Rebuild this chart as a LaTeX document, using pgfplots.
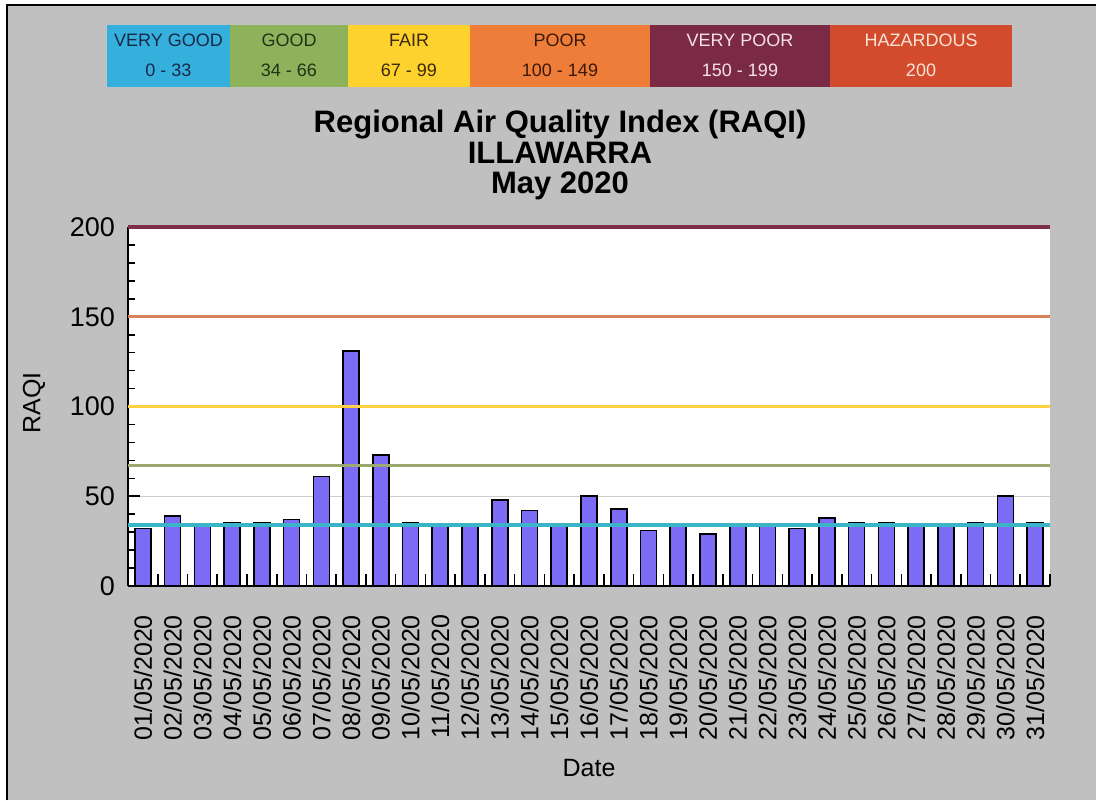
\documentclass[border=0pt]{standalone}
\usepackage{pgfplots}
\pgfplotsset{compat=1.18}
\usepackage{fontspec}
\setmainfont{Liberation Sans}

\definecolor{bggray}{RGB}{192,192,192}
\definecolor{cVG}{RGB}{53,176,221}
\definecolor{cG}{RGB}{141,178,91}
\definecolor{cF}{RGB}{253,210,46}
\definecolor{cP}{RGB}{238,125,58}
\definecolor{cVP}{RGB}{123,42,70}
\definecolor{cH}{RGB}{210,75,45}
\definecolor{lVG}{RGB}{60,180,200}
\definecolor{lG}{RGB}{155,168,110}
\definecolor{lF}{RGB}{255,208,64}
\definecolor{lP}{RGB}{214,130,90}
\definecolor{lVP}{RGB}{125,47,72}
\definecolor{barblue}{RGB}{124,108,245}

\pgfplotstableread{
x y
1 32
2 39
3 34
4 35
5 35
6 37
7 61
8 131
9 73
10 35
11 34
12 34
13 48
14 42
15 34
16 50
17 43
18 31
19 34
20 29
21 34
22 34
23 32
24 38
25 35
26 35
27 34
28 34
29 35
30 50
31 35
}\raqi

\begin{document}
\begin{tikzpicture}[x=1pt,y=1pt]
\useasboundingbox (0,0) rectangle (548,400);
\fill[white] (0,0) rectangle (548,400);
\fill[bggray] (3.25,0) rectangle (548,397.5);
\draw[black, line width=1pt] (3.25,0) -- (3.25,397.5) -- (548,397.5);

% category key
\fill[cVG] (53.5,356.5) rectangle (115,387.5);
\fill[cG]  (115,356.5) rectangle (174,387.5);
\fill[cF]  (174,356.5) rectangle (235,387.5);
\fill[cP]  (235,356.5) rectangle (325,387.5);
\fill[cVP] (325,356.5) rectangle (415,387.5);
\fill[cH]  (415,356.5) rectangle (506,387.5);
\begin{scope}[every node/.style={font=\fontsize{9}{11}\selectfont, inner sep=0pt}]
\node[text={rgb,255:red,25;green,40;blue,70}] at (84.25,379.6) {VERY GOOD};
\node[text={rgb,255:red,25;green,40;blue,70}] at (84.25,365) {0 - 33};
\node[text={rgb,255:red,35;green,50;blue,20}] at (144.5,379.6) {GOOD};
\node[text={rgb,255:red,35;green,50;blue,20}] at (144.5,365) {34 - 66};
\node[text={rgb,255:red,60;green,40;blue,10}] at (204.5,379.6) {FAIR};
\node[text={rgb,255:red,60;green,40;blue,10}] at (204.5,365) {67 - 99};
\node[text={rgb,255:red,60;green,25;blue,10}] at (280,379.6) {POOR};
\node[text={rgb,255:red,60;green,25;blue,10}] at (280,365) {100 - 149};
\node[text={rgb,255:red,245;green,225;blue,232}] at (370,379.6) {VERY POOR};
\node[text={rgb,255:red,245;green,225;blue,232}] at (370,365) {150 - 199};
\node[text={rgb,255:red,250;green,228;blue,215}] at (460.5,379.6) {HAZARDOUS};
\node[text={rgb,255:red,250;green,228;blue,215}] at (460.5,365) {200};
\end{scope}

% title
\begin{scope}[every node/.style={font=\fontsize{15.5}{17}\selectfont\bfseries, anchor=base, inner sep=0pt}]
\node at (280,334) {Regional Air Quality Index (RAQI)};
\node at (280,318.5) {ILLAWARRA};
\node at (280,303.5) {May 2020};
\end{scope}

\begin{axis}[
  at={(64pt,107pt)}, anchor=south west,
  width=461pt, height=179.5pt, scale only axis,
  xmin=0.5, xmax=31.5, ymin=0, ymax=200,
  clip=false,
  axis background/.style={fill=white},
  axis lines*=left,
  axis line style={black, line width=0.8pt},
  tick align=inside,
  major tick length=6pt, minor tick length=3.5pt,
  tick style={black, line width=0.8pt},
  ytick={0,50,100,150,200},
  minor y tick num=4,
  xtick={1.5,2.5,...,31.5},
  xticklabels={},
  extra x ticks={1,2,...,31},
  extra x tick labels={01/05/2020,02/05/2020,03/05/2020,04/05/2020,05/05/2020,06/05/2020,07/05/2020,08/05/2020,09/05/2020,10/05/2020,11/05/2020,12/05/2020,13/05/2020,14/05/2020,15/05/2020,16/05/2020,17/05/2020,18/05/2020,19/05/2020,20/05/2020,21/05/2020,22/05/2020,23/05/2020,24/05/2020,25/05/2020,26/05/2020,27/05/2020,28/05/2020,29/05/2020,30/05/2020,31/05/2020},
  extra x tick style={major tick length=0pt, xmajorgrids=false},
  xticklabel style={font=\fontsize{12.5}{14}\selectfont, yshift=-11pt, rotate=90, anchor=east},
  yticklabel style={font=\fontsize{13.5}{15}\selectfont, xshift=-3pt},
  /pgf/number format/assume math mode=true,
  ymajorgrids=true,
  major grid style={gray!40, line width=0.5pt},
  xlabel={Date}, ylabel={RAQI},
  xlabel style={font=\fontsize{12.5}{14}\selectfont, at={(axis description cs:0.5,-0.507)}, anchor=center},
  ylabel style={font=\fontsize{12.5}{14}\selectfont, at={(axis description cs:-0.102,0.51)}, anchor=center},
]
\addplot[ybar, bar width=8pt, fill=barblue, draw=black, line width=0.8pt] table[x=x, y=y] {\raqi};
\addplot[lVG, line width=2pt] coordinates {(0.5,34) (31.5,34)};
\addplot[lG, line width=1.6pt] coordinates {(0.5,67) (31.5,67)};
\addplot[lF, line width=1.6pt] coordinates {(0.5,100) (31.5,100)};
\addplot[lP, line width=1.6pt] coordinates {(0.5,150) (31.5,150)};
\addplot[lVP, line width=1.6pt] coordinates {(0.5,200) (31.5,200)};
\end{axis}
\end{tikzpicture}
\end{document}
